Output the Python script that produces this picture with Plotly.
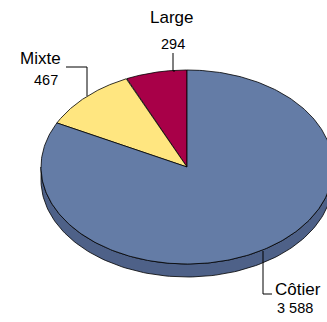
import numpy as np
import plotly.graph_objects as go

categories = ["Large", "Mixte", "Côtier"]
values = [294, 467, 3588]
value_labels = ["294", "467", "3 588"]
colors = ["#A80048", "#FFE680", "#647CA6"]
side_color = "#4E6188"

W, H = 327, 322
cx, cy, rx, ry, depth = 187, 167, 146, 97, 13

def pt(t):
    return cx + rx * np.cos(t), cy - ry * np.sin(t)

fig = go.Figure()

total = sum(values)
start = np.pi / 2
slices = []
for cat, v, col in zip(categories, values, colors):
    span = 2 * np.pi * v / total
    slices.append((cat, start, start + span, col))
    start += span

# side wall (front, visible half)
for cat, a0, a1, col in slices:
    segs = []
    for off in (0, 2 * np.pi):
        l = max(a0, np.pi + off)
        h = min(a1, 2 * np.pi + off)
        if h > l:
            segs.append((l, h))
    for l, h in segs:
        t = np.linspace(l, h, 120)
        x1, y1 = pt(t)
        xs = np.concatenate([x1, x1[::-1], [x1[0]]])
        ys = np.concatenate([y1, y1[::-1] + depth, [y1[0]]])
        fig.add_trace(go.Scatter(x=xs, y=ys, mode="lines", fill="toself",
                                 fillcolor=side_color if cat == "Côtier" else col,
                                 line=dict(color="black", width=0.8),
                                 hoverinfo="skip", showlegend=False))

# top faces
for cat, a0, a1, col in slices:
    t = np.linspace(a0, a1, 300)
    x1, y1 = pt(t)
    xs = np.concatenate([[cx], x1, [cx]])
    ys = np.concatenate([[cy], y1, [cy]])
    fig.add_trace(go.Scatter(x=xs, y=ys, mode="lines", fill="toself",
                             fillcolor=col, line=dict(color="black", width=0.8),
                             hoverinfo="skip", showlegend=False, name=cat))

# leader lines
leaders = [
    ([173, 173, 175], [53, 71, 71]),
    ([66, 87, 87], [67, 67, 96]),
    ([263, 263, 272], [251, 294, 294]),
]
for lx, ly in leaders:
    fig.add_trace(go.Scatter(x=lx, y=ly, mode="lines",
                             line=dict(color="black", width=1),
                             hoverinfo="skip", showlegend=False))

label_pos = {"Large": (171, 17, 173, 44), "Mixte": (40, 58, 46, 80),
             "Côtier": (298, 289, 295, 308)}
for cat, vl in zip(categories, value_labels):
    x0, y0, x1, y1 = label_pos[cat]
    fig.add_annotation(x=x0, y=y0, text=cat, showarrow=False,
                       font=dict(family="Liberation Sans, Arial", size=17, color="black"))
    fig.add_annotation(x=x1, y=y1, text=vl, showarrow=False,
                       font=dict(family="Liberation Sans, Arial", size=14.5, color="black"))

fig.update_layout(width=W, height=H, margin=dict(l=0, r=0, t=0, b=0),
                  paper_bgcolor="white", plot_bgcolor="white",
                  xaxis=dict(range=[0, W], visible=False, fixedrange=True),
                  yaxis=dict(range=[H, 0], visible=False, fixedrange=True),
                  showlegend=False)
fig.write_html("out.html", config={"displayModeBar": False},
               post_script="document.body.style.margin='0px';document.body.style.overflow='hidden';")
